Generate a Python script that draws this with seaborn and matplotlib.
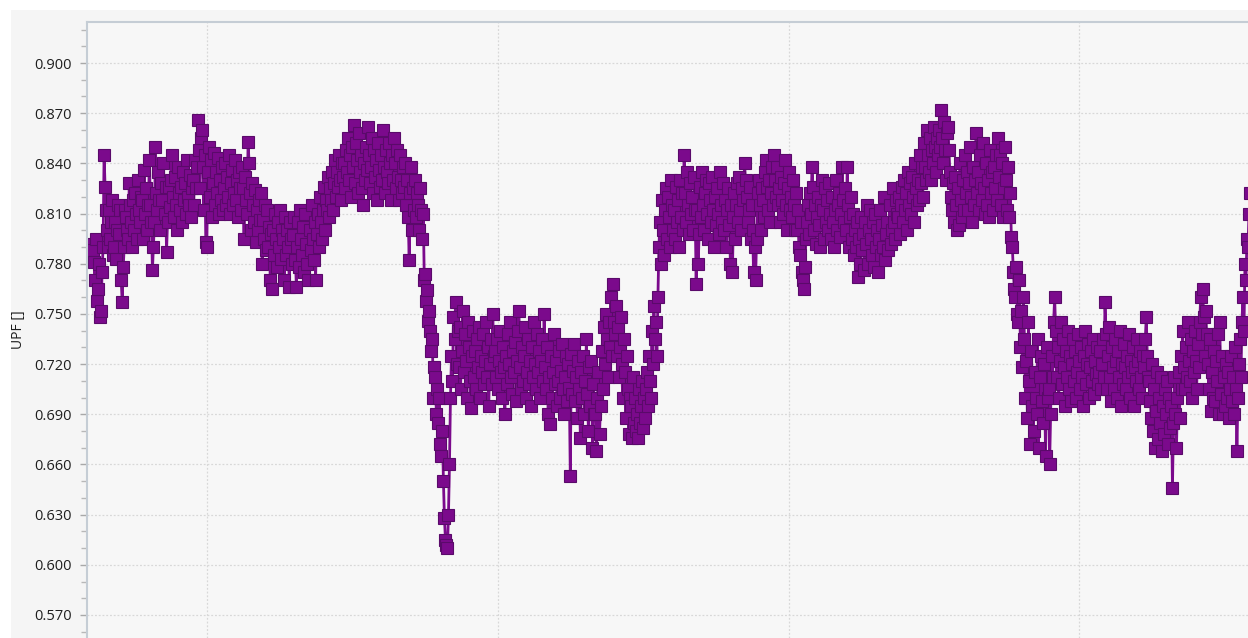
import numpy as np
import pandas as pd
import matplotlib
matplotlib.use("Agg")
import matplotlib.pyplot as plt
from matplotlib.patches import Rectangle
from matplotlib.ticker import MultipleLocator, FixedLocator, NullFormatter
import seaborn as sns

# ---- data: UPF in thousandths in sample order (about 1 sample per pixel) ----
s01 = [792,788,781,770,795,758,765,780,748,752,775,790,845,826,812,800,790,812,795,805,818,785,790,805,783,800,815,798,812,770,757,778,790,812,808,800,795,828,815,805,790,818,800,822,810,795,830,812,805,820]
s02 = [818,795,836,810,825,800,815,842,815,805,776,790,805,850,822,812,835,818,800,828,818,840,810,826,787,805,826,814,830,845,820,808,832,815,800,838,822,812,826,805,835,818,828,810,842,820,815,833,808,825]
s03 = [830,815,842,825,838,866,848,825,855,860,838,812,845,793,790,835,850,820,842,808,828,846,815,835,822,843,810,830,818,838,812,825,840,815,832,820,845,810,828,836,815,822,842,818,830,808,835,825,812,838]
s04 = [825,795,832,818,810,853,840,822,800,828,815,805,824,793,812,800,818,806,822,780,806,795,815,788,812,790,802,770,798,765,800,785,810,795,778,805,790,812,783,800,795,770,808,785,800,790,766,805,795,780]
s05 = [797,808,782,766,790,805,778,812,795,785,802,775,810,792,780,770,800,788,815,795,782,805,770,798,810,790,820,805,795,812,826,800,818,812,832,808,825,818,835,812,828,842,820,835,826,845,830,818,840,832]
s06 = [840,825,848,835,855,830,845,820,850,838,863,828,852,842,822,858,835,845,825,815,840,830,850,836,862,845,828,838,855,822,848,832,842,818,852,836,826,845,830,860,838,822,848,835,828,852,840,818,845,830]
s07 = [855,840,825,848,832,818,845,830,822,838,826,840,815,830,808,782,822,838,800,825,812,830,808,822,815,800,825,812,795,810,770,774,758,764,746,752,740,728,735,700,718,712,690,705,685,700,672,665,680,650]
s08 = [628,615,612,610,630,660,700,725,710,748,735,757,720,740,718,742,705,728,752,715,738,722,700,745,730,710,694,725,740,712,728,705,735,718,742,700,725,715,738,708,722,745,712,730,695,720,735,708,750,725]
s09 = [728,712,735,705,722,740,715,700,730,718,690,725,708,738,720,745,712,702,728,715,733,698,722,740,752,718,705,730,710,725,742,700,715,735,708,722,695,730,712,745,720,705,738,715,728,700,722,735,710,750]
s10 = [718,705,730,690,712,684,725,700,715,738,708,722,695,710,728,700,716,732,705,690,712,725,698,720,706,653,726,702,716,732,698,712,688,722,705,676,715,700,725,690,710,735,702,680,718,695,722,670,708,690]
s11 = [690,668,700,715,678,695,728,705,742,720,750,735,712,745,730,760,725,768,745,738,755,725,742,712,730,748,720,700,735,715,688,725,705,678,700,695,676,712,685,700,680,690,676,705,685,695,710,682,700,688]
s12 = [705,715,695,725,710,700,740,720,755,735,745,725,760,790,805,780,818,800,785,812,825,795,820,808,790,830,815,800,812,795,826,805,818,790,830,808,822,800,845,822,805,835,815,798,828,810,820,800,832,812]
s13 = [768,812,780,798,826,808,835,815,800,822,830,810,795,828,818,805,832,812,790,820,803,825,810,798,835,815,805,828,800,818,790,812,825,803,780,815,775,808,822,795,815,828,805,832,812,800,825,818,840,830]
s14 = [820,805,812,826,795,815,800,775,790,770,795,822,830,815,800,825,818,808,835,842,826,812,830,805,822,838,815,845,830,820,838,815,825,805,832,818,810,828,842,815,800,825,835,812,820,808,830,815,800,822]
s15 = [800,812,790,785,805,775,770,765,778,795,805,815,798,822,810,838,826,800,815,792,808,820,803,790,815,830,812,795,825,805,818,800,828,810,795,820,805,790,812,830,800,815,822,796,810,838,818,805,825,800]
s16 = [838,815,790,808,820,795,810,785,800,790,805,772,795,780,808,788,798,776,805,792,815,780,800,812,795,785,805,778,810,790,800,775,795,812,785,803,790,820,782,798,805,788,815,792,800,825,805,795,818,810]
s17 = [808,820,798,815,826,805,830,812,822,800,835,815,828,810,832,820,805,840,825,815,830,818,845,828,838,820,852,838,830,860,845,835,855,830,848,840,862,850,835,855,845,860,850,872,855,840,865,848,830,858]
s18 = [862,848,835,820,812,828,805,832,815,800,825,803,840,818,808,830,812,845,822,835,812,828,850,820,805,838,815,830,858,822,835,812,845,828,818,852,825,810,840,815,830,808,848,822,835,812,838,825,845,818]
s19 = [855,832,845,815,840,808,825,850,830,812,838,808,822,796,790,775,765,760,778,750,745,770,730,752,718,760,735,700,722,688,745,710,672,728,695,680,715,700,690,735,670,712,725,698,685,720,705,665,730,700]
s20 = [705,660,690,725,712,745,760,740,712,730,700,722,745,708,735,718,695,728,712,740,705,725,698,720,735,710,728,700,715,738,722,705,730,712,695,725,740,708,720,732,700,718,728,710,735,702,722,714,730,708]
s21 = [715,728,705,720,735,712,757,738,705,725,742,712,698,730,718,705,735,722,700,728,712,740,695,720,708,732,718,705,725,712,738,700,722,715,730,695,718,710,735,722,705,728,712,700,725,718,735,748,725,712]
s22 = [710,698,688,720,680,705,670,692,715,675,700,685,712,668,695,678,705,690,710,672,700,682,695,646,685,712,690,670,700,715,688,725,705,740,718,705,730,712,745,722,710,735,700,728,715,740,722,705,732,718]
s23 = [745,760,738,765,748,725,752,738,720,705,735,692,715,700,728,698,722,710,738,690,745,702,725,690,712,695,720,700,715,688,705,725,698,712,690,730,705,668,700,720,735,712,745,760,740,780,770,795,790,810,822]

upf_thousandths = (s01 + s02 + s03 + s04 + s05 + s06 + s07 + s08 + s09 + s10 + s11 + s12
                   + s13 + s14 + s15 + s16 + s17 + s18 + s19 + s20 + s21 + s22 + s23)
y_ticks = [0.570, 0.600, 0.630, 0.660, 0.690, 0.720, 0.750, 0.780, 0.810, 0.840, 0.870, 0.900]
y_label = "UPF []"

df = pd.DataFrame({"sample": np.arange(len(upf_thousandths)),
                   "UPF": np.array(upf_thousandths) / 1000.0})

# ---- figure ----
W, H, DPI = 1248, 638, 100
sns.set_theme(style="white")
plt.rcParams["font.family"] = ["Open Sans", "DejaVu Sans"]

fig = plt.figure(figsize=(W / DPI, H / DPI), dpi=DPI, facecolor="white")
fig.patches.append(Rectangle((11 / W, 0), 1 - 11 / W, 1 - 10 / H, transform=fig.transFigure,
                             facecolor="#f5f5f5", edgecolor="none", zorder=-10))

ax_left, ax_top = 87, 22
ax = fig.add_axes([ax_left / W, 0, 1 - ax_left / W + 0.002, 1 - ax_top / H])
ax.set_zorder(5)
ax.set_facecolor("#f7f7f7")

purple = "#7b0a8c"
sns.lineplot(data=df, x="sample", y="UPF", ax=ax, sort=False, estimator=None,
             color=purple, linewidth=2.0, marker="s", markersize=8.0,
             markerfacecolor=purple, markeredgecolor="#5a0a6a", markeredgewidth=0.8)

# horizontal mapping: first sample at px 92, last at px 1250
n = len(df)
px_per = (1250 - 92) / (n - 1)
def px2x(p):
    return (p - 92) / px_per
ax.set_xlim(px2x(ax_left), px2x(W + 2.5))
# vertical mapping: 0.900 at px 63, 0.570 at px 615
unit = 0.33 / (615 - 63)
ax.set_ylim(0.570 - (638 - 615) * unit, 0.900 + (63 - ax_top) * unit)

ax.xaxis.set_major_locator(FixedLocator([px2x(p) for p in (207, 498, 789, 1079)]))
ax.xaxis.set_major_formatter(NullFormatter())
ax.tick_params(axis="x", length=0)

ax.yaxis.set_major_locator(FixedLocator(y_ticks))
ax.yaxis.set_minor_locator(MultipleLocator(0.010))
ax.set_yticklabels([f"{v:.3f}" for v in y_ticks])
ax.tick_params(axis="y", which="major", length=5, width=1, color="#a8a8a8",
               labelsize=10.5, labelcolor="#1e1e1e", pad=6, left=True)
ax.tick_params(axis="y", which="minor", length=4, width=1, color="#b8b8b8", left=True)

ax.grid(True, which="major", axis="both", color="#d8d8d8", linestyle=(0, (1.5, 1.5)), linewidth=0.9)
ax.set_axisbelow(True)

for s in ("right", "bottom"):
    ax.spines[s].set_visible(False)
for s in ("left", "top"):
    ax.spines[s].set_color("#c5cdd5")
    ax.spines[s].set_linewidth(1.5)

ax.set_xlabel("")
ax.set_ylabel(y_label, fontsize=10, color="#1e1e1e", labelpad=6)

fig.savefig("out.png", dpi=DPI, facecolor=fig.get_facecolor())
